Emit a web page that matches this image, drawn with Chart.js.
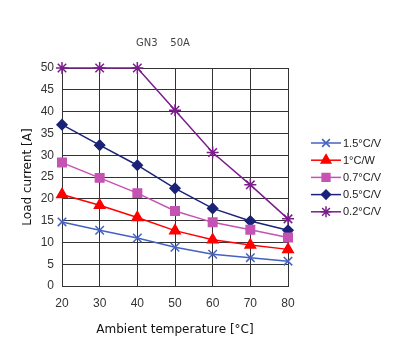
<!DOCTYPE html>
<html>
<head>
<meta charset="utf-8">
<title>GN3 50A</title>
<script src="https://cdn.jsdelivr.net/npm/chart.js@4.4.0/dist/chart.umd.min.js"></script>
<style>
  html, body { margin: 0; padding: 0; background: #ffffff; }
  #wrap { width: 397px; height: 364px; position: relative; }
</style>
</head>
<body>
<div id="wrap"><canvas id="myChart" width="397" height="364"></canvas></div>
<script>
// temperatures on the x axis
const temps = [20, 30, 40, 50, 60, 70, 80];
// load current [A] for each thermal resistance
const r15 = [14.7, 12.8, 11.0, 8.9, 7.3, 6.5, 5.7];
const r10 = [21.0, 18.5, 15.7, 12.7, 10.6, 9.4, 8.4];
const r07 = [28.3, 24.8, 21.3, 17.2, 14.6, 12.9, 11.1];
const r05 = [37.0, 32.3, 27.7, 22.4, 17.8, 14.9, 12.8];
const r02 = [50, 50, 50, 40.3, 30.6, 23.2, 15.4];
const seriesNames = ['1.5°C/V', '1°C/W', '0.7°C/V', '0.5°C/V', '0.2°C/V'];

function mk(label, vals, color, style, r) {
  return {
    label: label,
    data: vals.map((v, i) => ({ x: temps[i], y: v })),
    borderColor: color,
    backgroundColor: color,
    borderWidth: 1.5,
    pointStyle: style,
    pointRadius: r,
    pointBorderWidth: 1.5,
    pointHoverRadius: r,
    clip: false,
    tension: 0
  };
}

// legend drawn at the right, line + marker like the original
const sideLegend = {
  id: 'sideLegend',
  afterDraw(chart) {
    const ctx = chart.ctx;
    const x0 = 311, x1 = 341, y0 = 143, step = 17.2;
    chart.data.datasets.forEach((ds, i) => {
      const y = y0 + i * step;
      ctx.save();
      ctx.strokeStyle = ds.borderColor;
      ctx.lineWidth = 1.5;
      ctx.beginPath();
      ctx.moveTo(x0, y);
      ctx.lineTo(x1, y);
      ctx.stroke();
      ctx.fillStyle = ds.borderColor;
      Chart.helpers.drawPoint(ctx, {
        pointStyle: ds.pointStyle, radius: ds.pointRadius - 0.5, borderWidth: 1.5
      }, (x0 + x1) / 2, y);
      ctx.fillStyle = '#222';
      ctx.font = '11px "Liberation Sans", Arial, sans-serif';
      ctx.textBaseline = 'middle';
      ctx.textAlign = 'left';
      ctx.fillText(ds.label, x1 + 2, y + 0.5);
      ctx.restore();
    });
    // small title
    ctx.save();
    ctx.fillStyle = '#444';
    ctx.font = '10px "DejaVu Sans", Verdana, sans-serif';
    ctx.textAlign = 'center';
    ctx.textBaseline = 'middle';
    ctx.fillText('GN3    50A', 163, 43);
    ctx.restore();
  }
};

const ctx = document.getElementById('myChart').getContext('2d');
const myChart = new Chart(ctx, {
  type: 'line',
  data: {
    datasets: [
      mk(seriesNames[0], r15, '#4462c0', 'crossRot', 6),
      mk(seriesNames[1], r10, '#ff0000', 'triangle', 6),
      mk(seriesNames[2], r07, '#c553b3', 'rect', 6),
      mk(seriesNames[3], r05, '#1b2378', 'rectRot', 5),
      mk(seriesNames[4], r02, '#7a1f8a', 'star', 6)
    ]
  },
  options: {
    responsive: false,
    animation: false,
    layout: { padding: { left: 0, top: 68, right: 109, bottom: 0 } },
    plugins: {
      legend: { display: false },
      title: { display: false },
      tooltip: { enabled: false }
    },
    scales: {
      x: {
        type: 'linear',
        min: 20, max: 80,
        afterFit: s => { s.height = 78; },
        ticks: { stepSize: 10, color: '#333', padding: 10,
          font: { size: 12, family: '"Liberation Sans", Arial, sans-serif' } },
        grid: { color: '#333', lineWidth: 1, drawTicks: false },
        border: { color: '#333' },
        title: { display: true, text: 'Ambient temperature [°C]', color: '#111',
          padding: { top: 0, bottom: 27 },
          font: { size: 12, family: '"DejaVu Sans", Verdana, sans-serif' } }
      },
      y: {
        min: 0, max: 50,
        afterFit: s => { s.width = 62; },
        ticks: { stepSize: 5, color: '#333', padding: 8,
          font: { size: 12, family: '"Liberation Sans", Arial, sans-serif' } },
        grid: { color: '#333', lineWidth: 1, drawTicks: false },
        border: { color: '#333' },
        title: { display: true, text: 'Load current [A]', color: '#111',
          padding: { top: 21, bottom: 0 },
          font: { size: 12, family: '"DejaVu Sans", Verdana, sans-serif' } }
      }
    }
  },
  plugins: [sideLegend]
});
</script>
</body>
</html>
